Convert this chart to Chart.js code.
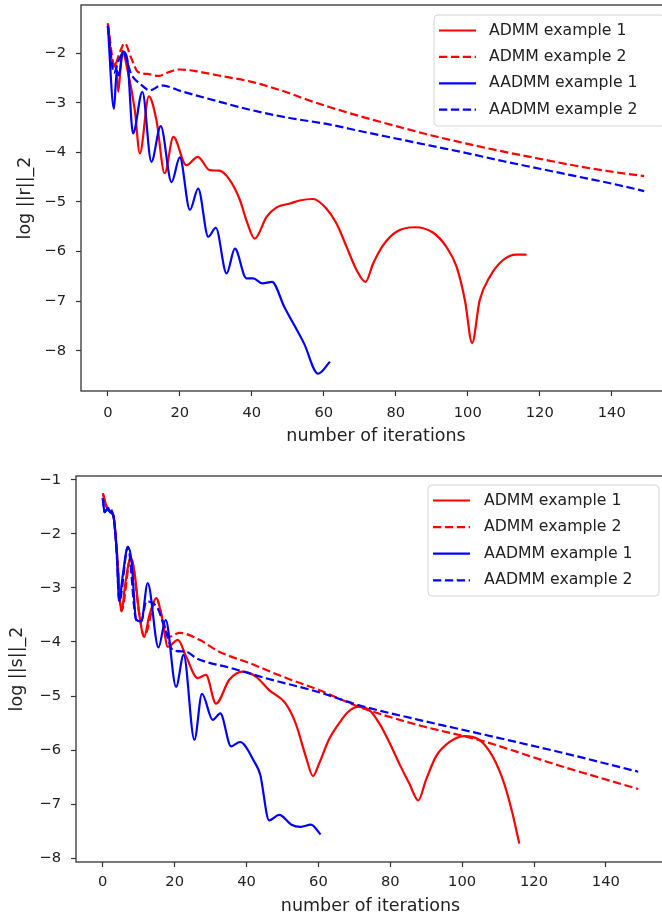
<!DOCTYPE html>
<html>
<head>
<meta charset="utf-8">
<script src="https://cdn.jsdelivr.net/npm/chart.js@4.4.0/dist/chart.umd.min.js"></script>
<style>
html, body { margin: 0; padding: 0; background: #fff; overflow: hidden; width: 662px; height: 921px; }
canvas { position: absolute; left: 0; }
#chartR { top: 0; }
#chartS { top: 460px; }
</style>
</head>
<body>
<canvas id="chartR" width="680" height="455"></canvas>
<canvas id="chartS" width="680" height="461"></canvas>
<script>
// series labels (same for both plots)
const seriesNames = ['ADMM example 1', 'ADMM example 2', 'AADMM example 1', 'AADMM example 2'];
const xLabel = 'number of iterations';

// top plot: log ||r||_2, points are [iteration, value]
const rAdmm1 = [[0,-1.40],[1.5,-2.28],[2.2,-2.2],[2.9,-2.78],[4,-1.95],[5.5,-2.35],[7.5,-3.15],[8.9,-4.02],
    [11.4,-2.87],[13.5,-3.35],[15.8,-4.42],[18.2,-3.69],[21.8,-4.26],[25,-4.09],[28.3,-4.36],[31,-4.37],
    [33.9,-4.56],[36.7,-4.96],[38.5,-5.37],[40.8,-5.74],[44.1,-5.30],[46.9,-5.11],[50.6,-5.03],[53.3,-4.97],
    [57,-4.94],[60.7,-5.13],[63.5,-5.43],[66.3,-5.90],[69.1,-6.37],[71.6,-6.61],[73.7,-6.24],[76.5,-5.87],
    [80.2,-5.60],[85.3,-5.51],[90.4,-5.62],[94,-5.90],[96.9,-6.31],[99.2,-6.98],[101.2,-7.84],[103.3,-6.98],
    [106.1,-6.51],[109.8,-6.17],[113.5,-6.06],[116.3,-6.06]];
const rAdmm2 = [[0,-1.40],[1.9,-2.27],[3,-2.05],[4.7,-1.80],[6.5,-2.1],[8.4,-2.38],[11,-2.42],[14,-2.46],
    [17,-2.38],[20,-2.33],[25,-2.37],[30,-2.44],[40,-2.58],[45,-2.68],[50.5,-2.81],[55,-2.93],[61.7,-3.09],
    [70,-3.27],[80,-3.47],[90,-3.66],[100,-3.83],[108.9,-3.97],[120,-4.13],[130,-4.27],[140,-4.39],[149,-4.48]];
const rAadmm1 = [[0,-1.45],[1.7,-3.12],[2.5,-2.35],[3.1,-2.45],[4.2,-1.97],[5.4,-2.12],[7,-3.62],[9.6,-2.78],
    [12.1,-4.19],[14.7,-3.47],[17.7,-4.6],[20,-4.1],[22.8,-5.16],[25.1,-4.73],[27.9,-5.7],[30,-5.52],[33,-6.44],
    [35.3,-5.94],[38.5,-6.54],[40.4,-6.54],[42.9,-6.64],[45.6,-6.61],[49,-7.11],[54.5,-7.85],[58.4,-8.46],[61.7,-8.22]];
const rAadmm2 = [[0,-1.45],[1.7,-2.4],[3,-2.15],[4.3,-2.0],[6.6,-2.44],[9,-2.62],[11.7,-2.75],[14.9,-2.65],
    [20.5,-2.77],[30,-2.96],[40,-3.15],[50,-3.30],[61.7,-3.44],[70,-3.57],[80,-3.72],[90,-3.87],[100,-4.02],
    [110,-4.18],[120,-4.33],[130,-4.48],[140,-4.63],[149,-4.78]];

// bottom plot: log ||s||_2
const sAdmm1 = [[0,-1.25],[1.5,-1.56],[2.9,-1.65],[4,-2.4],[5.2,-3.43],[6.3,-2.9],[7.8,-2.44],[8.8,-2.7],
    [10.3,-3.55],[11.5,-3.9],[13,-3.5],[14.9,-3.19],[16.5,-3.55],[18.1,-4.09],[20.9,-3.96],[23.2,-4.27],
    [26.4,-4.67],[28.7,-4.61],[31.5,-5.14],[35.2,-4.70],[38.9,-4.55],[42.6,-4.64],[46.3,-4.89],[50.9,-5.14],
    [53.7,-5.51],[56.5,-6.12],[58.5,-6.48],[60.2,-6.25],[62.9,-5.81],[65.7,-5.51],[68.3,-5.29],[71,-5.20],
    [74.2,-5.26],[77,-5.51],[79.7,-5.85],[82.5,-6.25],[85.3,-6.62],[87.8,-6.93],[89.9,-6.56],[92.7,-6.12],
    [96.5,-5.85],[100.6,-5.74],[104.8,-5.81],[108.5,-6.12],[111.7,-6.62],[114,-7.17],[115.9,-7.73]];
const sAdmm2 = [[0,-1.25],[1.5,-1.56],[2.9,-1.65],[4,-2.4],[5.2,-3.43],[7.8,-2.44],[10.3,-3.55],[11.5,-3.9],
    [14.9,-3.19],[16.7,-3.59],[18.6,-3.9],[21.3,-3.83],[26.9,-3.96],[32.4,-4.18],[40.8,-4.39],[50,-4.64],
    [60.2,-4.89],[71.3,-5.20],[87.9,-5.54],[104.5,-5.81],[126.7,-6.28],[149,-6.72]];
const sAadmm1 = [[0,-1.34],[0.5,-1.6],[1.5,-1.52],[2,-1.6],[2.9,-1.66],[3.8,-2.24],[4.6,-3.25],[5.5,-2.8],
    [7,-2.24],[8,-2.5],[9.3,-3.59],[10.7,-3.62],[12.5,-2.91],[15.5,-4.1],[17.5,-3.59],[20.4,-4.83],[22.5,-4.24],
    [25.5,-5.81],[27.6,-4.96],[30.6,-5.44],[32.7,-5.32],[35.7,-5.93],[38.2,-5.85],[42.2,-6.22],[43.8,-6.45],
    [46.3,-7.30],[49.1,-7.20],[52.5,-7.38],[55.1,-7.42],[57.9,-7.38],[60.6,-7.56]];
const sAadmm2 = [[0,-1.34],[0.5,-1.6],[1.5,-1.52],[2.9,-1.66],[3.8,-2.24],[4.6,-3.25],[7,-2.24],[9.3,-3.59],
    [10.7,-3.62],[12.1,-3.25],[15.3,-3.38],[17.5,-3.8],[19.5,-4.15],[23.2,-4.18],[26,-4.30],[36.1,-4.49],
    [45.4,-4.67],[60.2,-4.93],[71.3,-5.17],[87.9,-5.44],[104.5,-5.69],[126.7,-6.03],[149,-6.40]];

const textColor = '#222';
const tickFont = { family: 'DejaVu Sans', size: 14.7 };
const titleFont = { family: 'DejaVu Sans', size: 17.5 };

// draws the frame around the plot area
const framePlugin = {
    id: 'frame',
    afterDatasetsDraw(chart) {
        const { ctx, chartArea: a } = chart;
        ctx.save();
        ctx.strokeStyle = '#333';
        ctx.lineWidth = 1.3;
        ctx.strokeRect(a.left, a.top, a.right - a.left, a.bottom - a.top);
        ctx.restore();
    }
};

// matplotlib-like legend box inside the axes
const boxLegend = {
    id: 'boxLegend',
    afterDraw(chart, args, opts) {
        const ctx = chart.ctx;
        const { x, y, width: w, height: h } = opts;
        const r = 4;
        ctx.save();
        ctx.beginPath();
        ctx.moveTo(x + r, y);
        ctx.lineTo(x + w - r, y);
        ctx.arcTo(x + w, y, x + w, y + r, r);
        ctx.lineTo(x + w, y + h - r);
        ctx.arcTo(x + w, y + h, x + w - r, y + h, r);
        ctx.lineTo(x + r, y + h);
        ctx.arcTo(x, y + h, x, y + h - r, r);
        ctx.lineTo(x, y + r);
        ctx.arcTo(x, y, x + r, y, r);
        ctx.closePath();
        ctx.fillStyle = 'rgba(255,255,255,0.8)';
        ctx.fill();
        ctx.strokeStyle = '#d4d4d4';
        ctx.lineWidth = 1;
        ctx.stroke();
        chart.data.datasets.forEach((ds, i) => {
            const cy = y + opts.firstRow + i * opts.rowGap;
            ctx.beginPath();
            ctx.setLineDash(ds.borderDash);
            ctx.strokeStyle = ds.borderColor;
            ctx.lineWidth = ds.borderWidth;
            ctx.moveTo(x + 5, cy);
            ctx.lineTo(x + 5 + opts.handle, cy);
            ctx.stroke();
            ctx.setLineDash([]);
            ctx.fillStyle = textColor;
            ctx.font = '15.7px "DejaVu Sans"';
            ctx.textBaseline = 'middle';
            ctx.fillText(ds.label, x + opts.textX, cy);
        });
        ctx.restore();
    }
};

const makeDatasets = (lists) => lists.map((pts, i) => ({
    label: seriesNames[i],
    data: pts.map(p => ({ x: p[0], y: p[1] })),
    borderColor: i < 2 ? '#ff0000' : '#0000ff',
    borderDash: i % 2 ? [8.3, 3.6] : [],
    borderWidth: 2.2,
    pointRadius: 0,
    fill: false,
    cubicInterpolationMode: 'monotone',
    order: 4 - i
}));

const minus = v => String(v).replace('-', '\u2212');

const makeOptions = (cfg) => ({
    responsive: false,
    animation: false,
    devicePixelRatio: 1,
    layout: { autoPadding: false, padding: { left: 0, top: cfg.top, right: cfg.right, bottom: 0 } },
    plugins: {
        legend: { display: false },
        tooltip: { enabled: false },
        boxLegend: cfg.legend
    },
    scales: {
        x: {
            type: 'linear',
            min: -7.45,
            max: 156.45,
            ticks: { stepSize: 20, includeBounds: false, padding: cfg.xTickPad, font: tickFont, color: textColor,
                     maxRotation: 0, callback: minus },
            grid: { drawOnChartArea: false, drawTicks: true, tickLength: 5, color: '#333', tickWidth: 1.2 },
            border: { display: false },
            title: { display: true, text: xLabel, font: titleFont, color: textColor,
                     padding: { top: 0, bottom: cfg.xTitlePad } },
            afterFit: s => { s.height = cfg.xHeight; s.paddingLeft = 0; s.paddingRight = 0; }
        },
        y: {
            min: cfg.yMin,
            max: cfg.yMax,
            ticks: { stepSize: 1, includeBounds: false, padding: 10, font: tickFont, color: textColor, callback: minus },
            grid: { drawOnChartArea: false, drawTicks: true, tickLength: 5, color: '#333', tickWidth: 1.2 },
            border: { display: false },
            title: { display: true, text: cfg.yLabel, font: titleFont, color: textColor,
                     padding: { top: cfg.yTitlePad, bottom: 0 } },
            afterFit: s => { s.width = cfg.yWidth; s.paddingTop = 0; s.paddingBottom = 0; }
        }
    }
});

new Chart(document.getElementById('chartR').getContext('2d'), {
    type: 'line',
    data: { datasets: makeDatasets([rAdmm1, rAdmm2, rAadmm1, rAadmm2]) },
    options: makeOptions({
        top: 5, right: 9, xHeight: 64, yWidth: 81, xTickPad: 8, xTitlePad: 7.8, yTitlePad: 15.3,
        yMin: -8.81, yMax: -1.03, yLabel: 'log ||r||_2',
        legend: { x: 434, y: 15, width: 231, height: 111, firstRow: 15.5, rowGap: 26.4, handle: 37, textX: 55 }
    }),
    plugins: [framePlugin, boxLegend]
});

new Chart(document.getElementById('chartS').getContext('2d'), {
    type: 'line',
    data: { datasets: makeDatasets([sAdmm1, sAdmm2, sAadmm1, sAadmm2]) },
    options: makeOptions({
        top: 16, right: 15, xHeight: 59, yWidth: 76, xTickPad: 6.5, xTitlePad: 3.8, yTitlePad: 7,
        yMin: -8.07, yMax: -0.93, yLabel: 'log ||s||_2',
        legend: { x: 428, y: 25, width: 231, height: 111, firstRow: 15.5, rowGap: 26.6, handle: 37, textX: 56 }
    }),
    plugins: [framePlugin, boxLegend]
});
</script>
</body>
</html>
